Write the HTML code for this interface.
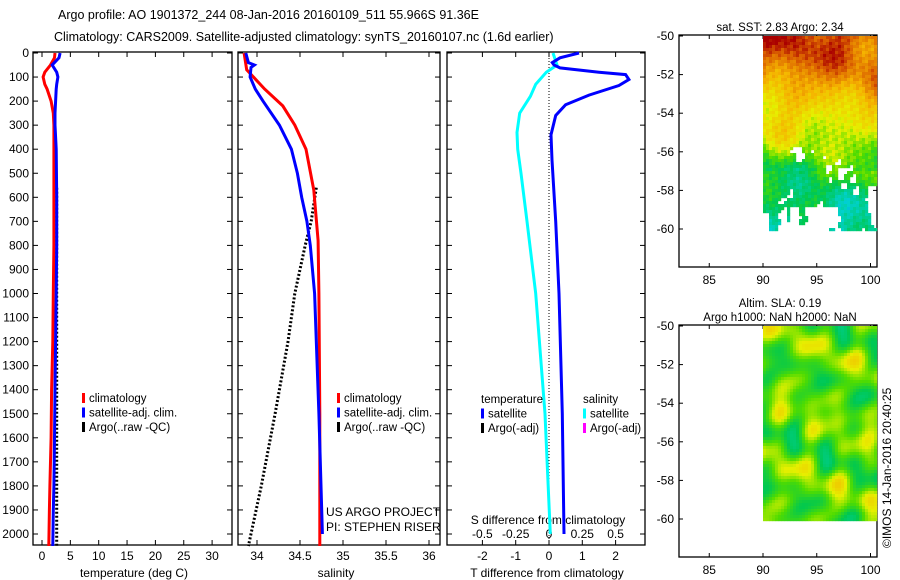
<!DOCTYPE html>
<html><head><meta charset="utf-8">
<style>
html,body{margin:0;padding:0;background:#fff;}
svg{display:block;font-family:"Liberation Sans",sans-serif;}
</style></head>
<body>
<svg id="fig" width="900" height="580" viewBox="0 0 900 580" xmlns="http://www.w3.org/2000/svg">
<rect x="0" y="0" width="900" height="580" fill="#fff"/>
<text x="58" y="19" font-size="12.5">Argo profile: AO 1901372_244 08-Jan-2016 20160109_511 55.966S 91.36E</text>
<text x="54" y="41" font-size="12.5">Climatology: CARS2009. Satellite-adjusted climatology: synTS_20160107.nc (1.6d earlier)</text>
<g id="p1"></g>
<g id="p2"></g>
<g id="p3"></g>
<g id="m1"></g>
<g id="m2"></g>
<text transform="translate(891,548) rotate(-90)" font-size="12">©IMOS 14-Jan-2016 20:40:25</text>
</svg>
<script>
// ---- data ----
const depthTick = [0,100,200,300,400,500,600,700,800,900,1000,1100,1200,1300,1400,1500,1600,1700,1800,1900,2000];
const tempTicks = [0,5,10,15,20,25,30];
const salTicks = [34,34.5,35,35.5,36];
const salTickLabels = ["34","34.5","35","35.5","36"];
const tdTicks = [-2,-1,0,1,2];
const sdTicks = [-0.5,-0.25,0,0.25,0.5];
const sdTickLabels = ["-0.5","-0.25","0","0.25","0.5"];
const climDepth = [0,20,50,80,100,130,150,200,250,300,400,600,800,1000,1200,1400,1600,1800,1900,2050];
const tempClim = [2.3,2.2,1.5,0.5,0.2,0.5,0.9,1.6,2.0,2.1,2.1,2.1,2.1,2.0,1.9,1.7,1.6,1.4,1.3,1.2];
const tempSat = [3.2,3.0,1.8,2.6,2.8,2.6,2.5,2.4,2.3,2.3,2.5,2.6,2.6,2.5,2.4,2.3,2.2,2.1,2.0,1.9];
const argoDepth = [560,700,800,1000,1200,1500,1800,2050];
const argoTemp = [2.6,2.6,2.6,2.6,2.6,2.6,2.6,2.6];
const salDepthC = [0,70,150,220,300,400,570,780,1000,1500,2000,2050];
const salClim = [33.85,33.88,34.09,34.3,34.44,34.57,34.66,34.71,34.72,34.73,34.73,34.73];
const salDepthS = [0,40,50,60,100,150,200,300,400,500,600,700,800,1000,1500,2000];
const salSat = [33.87,33.9,33.97,33.93,33.92,33.98,34.07,34.26,34.4,34.47,34.52,34.58,34.62,34.67,34.72,34.76];
const argoSal = [34.69,34.63,34.56,34.44,34.36,34.21,34.05,33.9];
const tdDepth = [0,20,40,50,62,80,90,110,135,175,215,260,340,445,700,1000,1500,2000];
const tDiff = [0.9,0.33,0.1,0.15,0.33,1.5,2.3,2.4,2.1,1.2,0.5,0.2,0.06,0.09,0.2,0.3,0.4,0.45];
const sdDepth = [0,50,80,130,180,250,330,400,500,700,1000,1500,2000];
const sDiff = [0.03,0.06,-0.02,-0.1,-0.14,-0.22,-0.24,-0.235,-0.21,-0.165,-0.1,-0.03,0.01];
const mapLonTicks = [85,90,95,100];
const mapLatTicks = [-50,-52,-54,-56,-58,-60];

const NS="http://www.w3.org/2000/svg";
function el(tag, attrs, parent, txt){const e=document.createElementNS(NS,tag);for(const k in attrs)e.setAttribute(k,attrs[k]);if(txt!==undefined)e.textContent=txt;parent.appendChild(e);return e;}
const yD = d => 53 + d*0.2405;
const PT=52, PB=545;

function frame(g,l,r){
  const b=el('rect',{x:l,y:PT,width:r-l,height:PB-PT,fill:'none',stroke:'#000','stroke-width':1.3},g);
   
  depthTick.forEach(d=>{const y=yD(d);
    el('line',{x1:l,x2:l+5,y1:y,y2:y,stroke:'#000'},g);
    el('line',{x1:r-5,x2:r,y1:y,y2:y,stroke:'#000'},g);});
}
function line(g,xs,ys,fx,color,w,dash,name){
  const pts=xs.map((v,i)=>fx(v).toFixed(1)+','+yD(ys[i]).toFixed(1)).join(' ');
  const p=el('polyline',{points:pts,fill:'none',stroke:color,'stroke-width':w},g);
  if(dash)p.setAttribute('stroke-dasharray',dash);
  
  
}
function legend(g,x,y,items){
  items.forEach((it,i)=>{
    if(it[0]){const r=el('rect',{x:x,y:y+i*14.5-9,width:3,height:10,fill:it[0]},g);
       }
    const t=el('text',{x:x+(it[0]?7:0),y:y+i*14.5,'font-size':11.5},g,it[1]);
     
  });
}
// Panel 1
const g1=document.getElementById('p1');
const xT=t=>42+t*5.67;
frame(g1,33,232);
depthTick.forEach(d=>{const t=el('text',{x:29,y:yD(d)+4,'font-size':12,'text-anchor':'end'},g1,String(d));
   });
tempTicks.forEach(v=>{const x=xT(v);el('line',{x1:x,x2:x,y1:PB,y2:PB-5,stroke:'#000'},g1);el('line',{x1:x,x2:x,y1:PT,y2:PT+5,stroke:'#000'},g1);
  const t=el('text',{x:x,y:560,'font-size':12,'text-anchor':'middle'},g1,String(v));
   });
const xl1=el('text',{x:134,y:577,'font-size':12,'text-anchor':'middle'},g1,'temperature (deg C)');
 
line(g1,argoTemp,argoDepth,xT,'#000',3,'2,2','argo-temperature-line');
line(g1,tempClim,climDepth,xT,'#f00',3,null,'climatology-temperature-line');
line(g1,tempSat,climDepth,xT,'#00f',3,null,'satellite-temperature-line');
legend(g1,82,402,[['#f00','climatology'],['#00f','satellite-adj. clim.'],['#000','Argo(..raw -QC)']]);

// Panel 2
const g2=document.getElementById('p2');
const xS=s=>257+(s-34)*86;
frame(g2,238,440);
salTicks.forEach((v,i)=>{const x=xS(v);el('line',{x1:x,x2:x,y1:PB,y2:PB-5,stroke:'#000'},g2);el('line',{x1:x,x2:x,y1:PT,y2:PT+5,stroke:'#000'},g2);
  const t=el('text',{x:x,y:560,'font-size':12,'text-anchor':'middle'},g2,salTickLabels[i]);
   });
const xl2=el('text',{x:336,y:577,'font-size':12,'text-anchor':'middle'},g2,'salinity');
 
line(g2,argoSal,argoDepth,xS,'#000',3,'2,2','argo-salinity-line');
line(g2,salClim,salDepthC,xS,'#f00',3,null,'climatology-salinity-line');
line(g2,salSat,salDepthS,xS,'#00f',3,null,'satellite-salinity-line');
legend(g2,337,402,[['#f00','climatology'],['#00f','satellite-adj. clim.'],['#000','Argo(..raw -QC)']]);
const pr1=el('text',{x:326,y:516,'font-size':12},g2,'US ARGO PROJECT');
const pr2=el('text',{x:326,y:531,'font-size':12},g2,'PI: STEPHEN RISER');

// Panel 3
const g3=document.getElementById('p3');
const xTD=v=>549+v*33.3, xSD=v=>549+v*133.2;
frame(g3,447,645);
tdTicks.forEach(v=>{const x=xTD(v);el('line',{x1:x,x2:x,y1:PB,y2:PB-5,stroke:'#000'},g3);el('line',{x1:x,x2:x,y1:PT,y2:PT+5,stroke:'#000'},g3);
  const t=el('text',{x:x,y:560,'font-size':12,'text-anchor':'middle'},g3,String(v));
   });
sdTicks.forEach((v,i)=>{const t=el('text',{x:xSD(v),y:538,'font-size':12,'text-anchor':'middle'},g3,sdTickLabels[i]);
   });
const sdt=el('text',{x:548,y:524,'font-size':12,'text-anchor':'middle'},g3,'S difference from climatology');
 
const xl3=el('text',{x:547,y:577,'font-size':12,'text-anchor':'middle'},g3,'T difference from climatology');
 
const zl=el('line',{x1:549,x2:549,y1:PT,y2:PB,stroke:'#000','stroke-dasharray':'1,2'},g3);
 
line(g3,sDiff,sdDepth,xSD,'#0ff',3,null,'salinity-difference-line');
line(g3,tDiff,tdDepth,xTD,'#00f',3,null,'temperature-difference-line');
legend(g3,481,403,[[null,'temperature'],['#00f','satellite'],['#000','Argo(-adj)']]);
legend(g3,583,403,[[null,'salinity'],['#0ff','satellite'],['#f0f','Argo(-adj)']]);

// Maps
function jet(v){v=Math.max(0,Math.min(1,v));
  const st=[[0,[0,0,140]],[0.15,[0,120,255]],[0.3,[0,210,210]],[0.45,[0,200,80]],[0.55,[80,220,0]],[0.65,[230,240,0]],[0.78,[245,180,0]],[0.9,[220,100,0]],[1,[170,0,0]]];
  for(let i=1;i<st.length;i++){if(v<=st[i][0]){const a=st[i-1],b=st[i],f=(v-a[0])/(b[0]-a[0]);
    return 'rgb('+a[1].map((c,j)=>Math.round(c+(b[1][j]-c)*f)).join(',')+')';}}return 'rgb(170,0,0)';}
function mapFrame(g,top,bot,lat50y,lat60y,title){
  const L=679,R=877;
  el('rect',{x:L,y:top,width:R-L,height:bot-top,fill:'none',stroke:'#000','stroke-width':1.3},g);
  const lon=x=>763+(x-90)*10.75, lat=v=>lat50y+(-50-v)*(lat60y-lat50y)/10;
  mapLonTicks.forEach(v=>{const x=lon(v);el('line',{x1:x,x2:x,y1:bot,y2:bot-4,stroke:'#000'},g);el('line',{x1:x,x2:x,y1:top,y2:top+4,stroke:'#000'},g);
    const t=el('text',{x:x,y:bot+17,'font-size':12,'text-anchor':'middle'},g,String(v));
     });
  mapLatTicks.forEach(v=>{const y=lat(v);el('line',{x1:L,x2:L+4,y1:y,y2:y,stroke:'#000'},g);el('line',{x1:R-4,x2:R,y1:y,y2:y,stroke:'#000'},g);
    const t=el('text',{x:674,y:y+4,'font-size':12,'text-anchor':'end'},g,String(v));
     });
  title.forEach((s,i)=>{const t=el('text',{x:780,y:top-4-(title.length-1-i)*14,'font-size':11.5,'text-anchor':'middle'},g,s);
     });
}
function fld(x,y,s){return Math.sin(x*0.21+y*0.13+s)*0.5+Math.sin(x*0.07-y*0.19+2*s)*0.6+Math.sin(x*0.33+y*0.05+3*s)*0.3+Math.cos(y*0.29-x*0.11+s)*0.35;}
function hf(x,y){return Math.sin(x*1.7+y*0.9)*Math.cos(y*1.3-x*0.4);}
const m1=document.getElementById('m1');
mapFrame(m1,35,267,36,229,['sat. SST: 2.83  Argo: 2.34']);
const cells1=el('g',{},m1);
for(let i=0;i<38;i++)for(let j=0;j<65;j++){
  const x=763+i*3,y=36+j*3;if(x>=876)continue;
  let v=0.95-j/65*0.62+fld(i*1.3,j*1.2,1)*0.07+hf(i,j)*0.04;
  if(j>30 && j<45) v-= (j-30)/15*0.05;
  const hole=fld(i*1.9,j*1.1,4)+hf(i*0.7,j*0.6)*0.5;
  if(j>36 && j<50 && hole>1.0)continue;
  if(j>=50 && i>4 && hole>0.1+(65-j)*0.03)continue;
  if(j>56 && i>8 && i<26 && hole>-0.8)continue;
  if(i<2 && j>58)continue;
  el('rect',{x:x,y:y,width:3.2,height:3.2,fill:jet(v)},cells1);
}
const m2=document.getElementById('m2');
mapFrame(m2,325,557,326,519,['Altim. SLA: 0.19','Argo h1000: NaN h2000: NaN']);
const cells2=el('g',{},m2);
for(let i=0;i<38;i++)for(let j=0;j<65;j++){
  const x=763+i*3,y=326+j*3;if(x>=876)continue;
  const v=0.55+fld(i*1.8,j*1.5,7)*0.09+Math.sin(i*0.45+j*0.3)*Math.cos(j*0.35-i*0.2)*0.05;
  el('rect',{x:x,y:y,width:3.2,height:3.2,fill:jet(v)},cells2);
}
</script>
</body></html>
